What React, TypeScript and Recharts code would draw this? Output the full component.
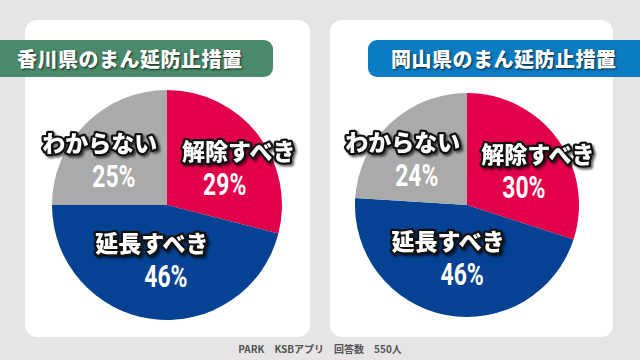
import React from 'react';
import { PieChart, Pie, Cell } from 'recharts';

const categories = ['解除すべき', '延長すべき', 'わからない'];
const kagawaValues = [29, 46, 25];
const okayamaValues = [30, 46, 24];
const panelTitles = ['香川県のまん延防止措置', '岡山県のまん延防止措置'];
const footerText = 'PARK　KSBアプリ　回答数　550人';

const sliceColors = ['#e2004b', '#064293', '#aaaaaa'];

const kagawaData = categories.map((name, i) => ({ name, value: kagawaValues[i] }));
const okayamaData = categories.map((name, i) => ({ name, value: okayamaValues[i] }));

const RAD = Math.PI / 180;

const renderLabel = (props: any) => {
  const { cx, cy, midAngle, outerRadius, percent, name, value } = props;
  const theta = percent * 2 * Math.PI;
  const centroid = (4 * outerRadius * Math.sin(theta / 2)) / (3 * theta);
  const r = centroid * 1.1;
  const ux = r * Math.cos(-midAngle * RAD);
  const uy = r * Math.sin(-midAngle * RAD);
  const ax = cx + ux * 1.12;
  const ay = cy + uy * 0.9 + 2;
  const side = ux >= 0 ? 1 : -1;
  return (
    <g>
      <text
        x={ax + 7 * side}
        y={ay - 17}
        textAnchor="middle"
        dominantBaseline="central"
        fill="#ffffff"
        stroke="#111111"
        strokeWidth={4.5}
        strokeLinejoin="round"
        paintOrder="stroke"
        fontSize={23}
        fontWeight={900}
        fontFamily="'Noto Sans CJK JP', sans-serif"
        style={{ filter: 'drop-shadow(2px 2px 1px rgba(0,0,0,0.6))' }}
      >
        {name}
      </text>
      <g transform={`translate(${ax - 7 * side},${ay + 18}) scale(0.74,1)`}>
        <text
          x={0}
          y={0}
          textAnchor="middle"
          dominantBaseline="central"
          fill="#ffffff"
          fontSize={31}
          fontWeight={700}
          fontFamily="'Roboto', 'Liberation Sans', sans-serif"
        >
          {value}%
        </text>
      </g>
    </g>
  );
};

const headerText: React.CSSProperties = {
  color: '#ffffff',
  fontFamily: "'Noto Sans CJK JP', sans-serif",
  fontWeight: 900,
  fontSize: 20,
  letterSpacing: 0.5,
  textShadow: '1px 1px 2px rgba(0,0,0,0.7)',
  lineHeight: '37px',
  whiteSpace: 'nowrap',
};

export default function App() {
  return (
    <div
      style={{
        position: 'fixed',
        left: 0,
        top: 0,
        width: 640,
        height: 360,
        background: '#e6e4e5',
        overflow: 'hidden',
      }}
    >
      <div style={{ position: 'absolute', left: 25, top: 20, width: 285, height: 317, background: '#ffffff', borderRadius: 12 }} />
      <div style={{ position: 'absolute', left: 330, top: 20, width: 283, height: 317, background: '#ffffff', borderRadius: 12 }} />
      <div
        style={{
          position: 'absolute',
          left: 0,
          top: 40,
          width: 273,
          height: 37,
          background: '#4a8a6b',
          borderRadius: '0 9px 9px 0',
        }}
      >
        <div style={{ ...headerText, position: 'absolute', left: 17, top: 0 }}>{panelTitles[0]}</div>
      </div>
      <div
        style={{
          position: 'absolute',
          left: 368,
          top: 40,
          width: 272,
          height: 37,
          background: '#0b7bc3',
          borderRadius: '9px 0 0 9px',
        }}
      >
        <div style={{ ...headerText, position: 'absolute', left: 23, top: 0 }}>{panelTitles[1]}</div>
      </div>
      <div style={{ position: 'absolute', left: 0, top: 0 }}>
        <PieChart width={640} height={360} margin={{ top: 0, right: 0, bottom: 0, left: 0 }}>
          <Pie
            data={kagawaData}
            dataKey="value"
            nameKey="name"
            cx={167}
            cy={205}
            outerRadius={115}
            startAngle={90}
            endAngle={-270}
            stroke="none"
            labelLine={false}
            label={renderLabel}
            isAnimationActive={false}
          >
            {kagawaData.map((d, i) => (
              <Cell key={d.name} fill={sliceColors[i]} />
            ))}
          </Pie>
          <Pie
            data={okayamaData}
            dataKey="value"
            nameKey="name"
            cx={467}
            cy={205}
            outerRadius={112}
            startAngle={90}
            endAngle={-270}
            stroke="none"
            labelLine={false}
            label={renderLabel}
            isAnimationActive={false}
          >
            {okayamaData.map((d, i) => (
              <Cell key={d.name} fill={sliceColors[i]} />
            ))}
          </Pie>
        </PieChart>
      </div>
      <div
        style={{
          position: 'absolute',
          left: 0,
          width: 640,
          top: 341,
          textAlign: 'center',
          fontFamily: "'Noto Sans CJK JP', sans-serif",
          fontWeight: 700,
          fontSize: 10,
          color: '#555555',
          whiteSpace: 'pre',
        }}
      >
        {footerText}
      </div>
    </div>
  );
}
